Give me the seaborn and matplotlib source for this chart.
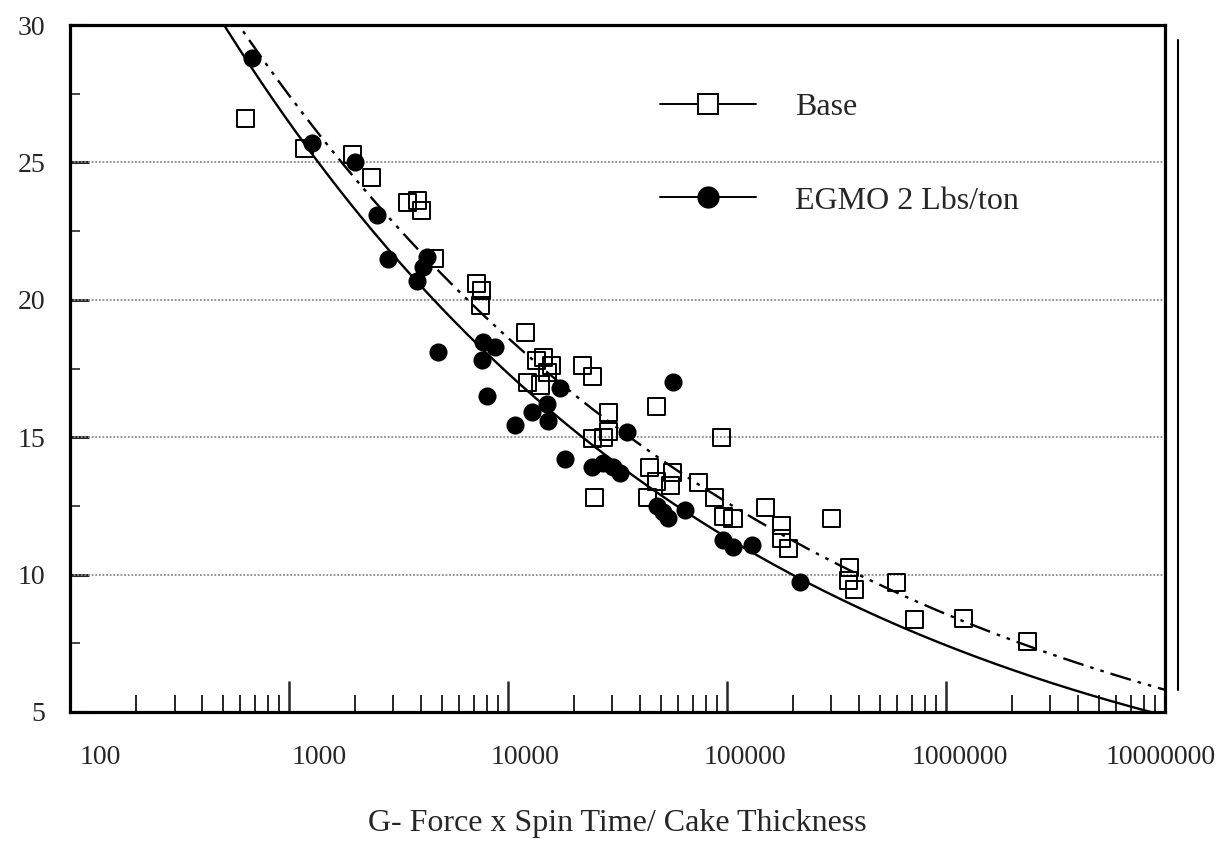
import numpy as np
import pandas as pd
import seaborn as sns
import matplotlib.pyplot as plt
from matplotlib import ticker
from matplotlib.lines import Line2D
from matplotlib.transforms import ScaledTranslation

# Base (open squares)
base_x = [630, 1183, 1941, 2392, 3490, 3880, 4010, 4640, 7210, 7600, 7450,
          11970, 12220, 13560, 14450, 15070, 15870, 14000, 21980, 24190,
          47860, 28900, 24190, 27170, 28640, 94850, 24950, 44460, 47860,
          43150, 56620, 54950, 73830, 88100, 95900, 106500, 149300, 178000,
          178000, 190000, 301000, 364000, 357000, 384000, 597000, 721000,
          1197000, 2366000]
base_y = [26.6, 25.5, 25.3, 24.45, 23.55, 23.6, 23.25, 21.5, 20.6, 20.35, 19.8,
          18.8, 17.0, 17.8, 17.9, 17.36, 17.6, 16.9, 17.6, 17.2,
          16.1, 15.9, 14.96, 15.0, 15.2, 15.0, 12.8, 13.9, 13.4,
          12.8, 13.7, 13.25, 13.36, 12.8, 12.1, 12.05, 12.45, 11.8,
          11.33, 10.96, 12.05, 10.27, 9.8, 9.44, 9.73, 8.35,
          8.42, 7.55]

# EGMO 2 Lbs/ton (filled circles)
egmo_x = [678, 1274, 2000, 2524, 2830, 4270, 4090, 3840, 4790, 7690, 8730,
          7610, 8020, 10770, 12880, 15070, 15240, 17270, 56620, 34910, 18200,
          24190, 27170, 30130, 32440, 47860, 51000, 53800, 64300, 95900,
          106500, 130000, 215000]
egmo_y = [28.8, 25.7, 25.0, 23.07, 21.5, 21.55, 21.2, 20.7, 18.1, 18.45, 18.27,
          17.8, 16.5, 15.45, 15.9, 16.2, 15.6, 16.8, 17.0, 15.2, 14.2,
          13.9, 14.05, 13.9, 13.7, 12.5, 12.27, 12.05, 12.35, 11.25,
          11.0, 11.07, 9.73]

x_ticks = [100, 1000, 10000, 100000, 1000000, 10000000]
x_labels = ["100", "1000", "10000", "100000", "1000000", "10000000"]
y_ticks = [5, 10, 15, 20, 25, 30]

base = pd.DataFrame({"x": base_x, "y": base_y})
egmo = pd.DataFrame({"x": egmo_x, "y": egmo_y})

sns.set_style("white")
plt.rcParams["font.family"] = ["Liberation Serif", "DejaVu Serif"]

fig = plt.figure(figsize=(12.24, 8.46), dpi=100)
ax = fig.add_axes([0.0572, 0.1584, 0.8946, 0.812])

# power-law fits (linear in log-log)
grid = np.logspace(2, 7, 400)
for df, ls in [(egmo, "-"), (base, (0, (9, 3, 1.5, 3, 1.5, 3)))]:
    b, a = np.polyfit(np.log10(df["x"]), np.log10(df["y"]), 1)
    ax.plot(grid, 10 ** a * grid ** b, color="black", ls=ls, lw=1.7, zorder=2)

sns.scatterplot(data=base, x="x", y="y", ax=ax, marker="s", s=150,
                facecolor="none", edgecolor="black", linewidth=1.4, zorder=3)
sns.scatterplot(data=egmo, x="x", y="y", ax=ax, marker="o", s=170,
                color="black", edgecolor="black", linewidth=0, zorder=4)

ax.set_xscale("log")
ax.set_xlim(100, 1e7)
ax.set_ylim(5, 30)
ax.set_xticks(x_ticks)
ax.set_xticklabels(x_labels)
ax.xaxis.set_minor_locator(ticker.LogLocator(base=10, subs=np.arange(2, 10), numticks=50))
ax.xaxis.set_minor_formatter(ticker.NullFormatter())
ax.set_yticks(y_ticks)
ax.yaxis.set_minor_locator(ticker.MultipleLocator(2.5))

ax.tick_params(axis="x", which="major", bottom=True, direction="in", length=22,
               width=1.8, pad=24, labelsize=20)
ax.tick_params(axis="x", which="minor", bottom=True, direction="in", length=12, width=1.4)
ax.tick_params(axis="y", which="major", left=True, direction="in", length=14, width=2.2,
               pad=18, labelsize=20)
ax.tick_params(axis="y", which="minor", left=True, direction="in", length=7, width=1.2)

# tick labels in the scan sit a bit to the right of their ticks
offsets = [30, 30, 17, 18, 14, -4]
for lab, dx in zip(ax.get_xticklabels(), offsets):
    lab.set_transform(lab.get_transform() + ScaledTranslation(dx / 100, 0, fig.dpi_scale_trans))

for v in [10, 15, 20, 25]:
    ax.axhline(v, color="#8a8a8a", ls=(0, (1, 1)), lw=1.3, zorder=1)

for sp in ax.spines.values():
    sp.set_linewidth(2.3)
    sp.set_color("black")

ax.set_xlabel("G- Force x Spin Time/ Cake Thickness", fontsize=23, labelpad=28)
ax.set_ylabel("")

handles = [
    Line2D([0], [0], color="black", lw=1.4, marker="s", ms=15,
           mfc="white", mec="black", mew=1.4),
    Line2D([0], [0], color="black", lw=1.4, marker="o", ms=15,
           mfc="black", mec="black"),
]
ax.legend(handles, ["Base", "EGMO 2 Lbs/ton"], loc="upper left",
          bbox_to_anchor=(0.513, 0.943), frameon=False, fontsize=23,
          handlelength=3.0, labelspacing=2.0, handletextpad=1.2)

# stray vertical rule to the right of the frame in the original
fig.add_artist(Line2D([1178 / 1224, 1178 / 1224], [1 - 40 / 846, 1 - 690 / 846],
                      color="black", lw=1.5))

fig.savefig("out.png", dpi=100)
